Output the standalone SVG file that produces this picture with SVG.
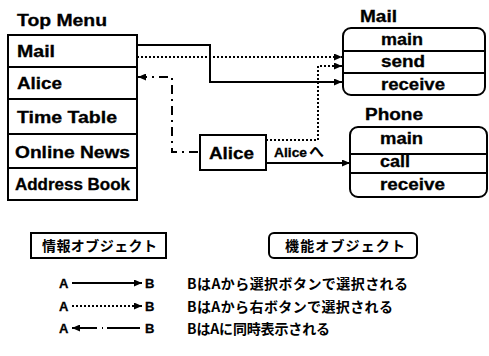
<svg xmlns="http://www.w3.org/2000/svg" width="489" height="356" viewBox="0 0 489 356">
<defs>
<style>
.t{font-family:"Liberation Sans","Noto Sans CJK JP",Arial,sans-serif;font-weight:bold;fill:#000;stroke:#000;stroke-width:0.3;}
.j{font-family:"Noto Sans CJK JP","Liberation Sans",sans-serif;font-weight:bold;fill:#000;}
.box{fill:#fff;stroke:#000;stroke-width:2;}
.div{stroke:#000;stroke-width:2;}
.ln{fill:none;stroke:#000;stroke-width:2;}
.dot{fill:none;stroke:#000;stroke-width:2;stroke-dasharray:2 2;}
.dd{fill:none;stroke:#000;stroke-width:2;stroke-dasharray:9 5 2 5;}
</style>
<marker id="ah" markerWidth="8" markerHeight="7" refX="8" refY="3.5" orient="auto" markerUnits="userSpaceOnUse">
<path d="M0,0 L8,3.5 L0,7 Z" fill="#000"/>
</marker>
</defs>
<rect width="489" height="356" fill="#fff"/>

<g id="top-menu">
<text class="t" x="17" y="26" font-size="16" textLength="90" lengthAdjust="spacingAndGlyphs">Top Menu</text>
<rect class="box" x="8" y="35" width="129" height="165"/>
<line class="div" x1="8" y1="67" x2="137" y2="67"/>
<line class="div" x1="8" y1="99" x2="137" y2="99"/>
<line class="div" x1="8" y1="134" x2="137" y2="134"/>
<line class="div" x1="8" y1="168" x2="137" y2="168"/>
<text class="t" x="17" y="57" font-size="16" textLength="38" lengthAdjust="spacingAndGlyphs">Mail</text>
<text class="t" x="17" y="89" font-size="16" textLength="45" lengthAdjust="spacingAndGlyphs">Alice</text>
<text class="t" x="17" y="123" font-size="16" textLength="100" lengthAdjust="spacingAndGlyphs">Time Table</text>
<text class="t" x="15" y="158" font-size="16" textLength="115" lengthAdjust="spacingAndGlyphs">Online News</text>
<text class="t" x="15" y="190" font-size="16" textLength="115" lengthAdjust="spacingAndGlyphs">Address Book</text>
</g>

<g id="mail">
<text class="t" x="360" y="22" font-size="16" textLength="37" lengthAdjust="spacingAndGlyphs">Mail</text>
<rect class="box" x="343" y="28" width="142" height="67" rx="8"/>
<line class="div" x1="343" y1="51" x2="485" y2="51"/>
<line class="div" x1="343" y1="73" x2="485" y2="73"/>
<text class="t" x="381" y="45" font-size="16" textLength="42" lengthAdjust="spacingAndGlyphs">main</text>
<text class="t" x="381" y="67" font-size="16" textLength="44" lengthAdjust="spacingAndGlyphs">send</text>
<text class="t" x="381" y="90" font-size="16" textLength="64" lengthAdjust="spacingAndGlyphs">receive</text>
</g>

<g id="phone">
<text class="t" x="365" y="120" font-size="16" textLength="58" lengthAdjust="spacingAndGlyphs">Phone</text>
<rect class="box" x="350" y="127" width="137" height="70" rx="8"/>
<line class="div" x1="350" y1="154" x2="487" y2="154"/>
<line class="div" x1="350" y1="173" x2="487" y2="173"/>
<text class="t" x="380" y="144" font-size="16" textLength="43" lengthAdjust="spacingAndGlyphs">main</text>
<text class="t" x="380" y="167" font-size="16" textLength="30" lengthAdjust="spacingAndGlyphs">call</text>
<text class="t" x="380" y="190" font-size="16" textLength="65" lengthAdjust="spacingAndGlyphs">receive</text>
</g>

<g id="alice">
<rect class="box" x="200" y="135" width="66" height="35"/>
<text class="t" x="209" y="159" font-size="16" textLength="45" lengthAdjust="spacingAndGlyphs">Alice</text>
</g>

<g id="connectors">
<path class="ln" d="M137,45 H210 V82 H342" marker-end="url(#ah)"/>
<path class="dot" d="M137,57 H342" marker-end="url(#ah)"/>
<path class="dot" d="M266,140 H318 V66 H342" marker-end="url(#ah)"/>
<path class="ln" d="M266,163 H350" marker-end="url(#ah)"/>
<path class="dd" d="M198,152 H172 V77 H138" marker-end="url(#ah)"/>
<text class="t" x="274" y="157" font-size="13" textLength="33" lengthAdjust="spacingAndGlyphs">Alice</text>
<text class="j" x="309" y="157" font-size="15">へ</text>
</g>

<g id="legend">
<rect class="box" x="31" y="233" width="135" height="25"/>
<text class="j" x="42" y="251" font-size="14" textLength="115">情報オブジェクト</text>
<rect class="box" x="269" y="233" width="148" height="25" rx="5"/>
<text class="j" x="285" y="251" font-size="14" textLength="120">機能オブジェクト</text>

<text class="t" x="59" y="288" font-size="13">A</text>
<line class="ln" x1="72" y1="283" x2="142" y2="283" marker-end="url(#ah)"/>
<text class="t" x="145" y="288" font-size="13">B</text>
<text class="j" x="187" y="289" font-size="14" textLength="221">BはAから選択ボタンで選択される</text>

<text class="t" x="59" y="311" font-size="13">A</text>
<line class="dot" x1="72" y1="306" x2="142" y2="306" marker-end="url(#ah)"/>
<text class="t" x="145" y="311" font-size="13">B</text>
<text class="j" x="187" y="312" font-size="14" textLength="206">BはAから右ボタンで選択される</text>

<text class="t" x="59" y="333" font-size="13">A</text>
<path class="ln" d="M140,328 H107 M102,328 H103 M97,328 H72" marker-end="url(#ah)"/>
<text class="t" x="145" y="333" font-size="13">B</text>
<text class="j" x="187" y="334" font-size="14" textLength="143">BはAに同時表示される</text>
</g>
</svg>
